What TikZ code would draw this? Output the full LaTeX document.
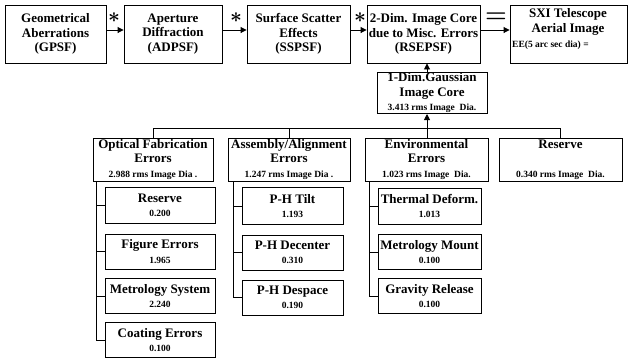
\documentclass[tikz,border=0pt]{standalone}
\usepackage{fontspec}
\setmainfont{Liberation Serif}
\usetikzlibrary{arrows.meta}
\newcommand\smtxt[1]{{\fontsize{9.5}{10}\selectfont #1}}
\tikzset{
  box/.style={draw, line width=0.9pt, inner sep=0.5pt, align=center,
    font=\bfseries\fontsize{13}{14.5}\selectfont},
  sm/.style={font=\bfseries\fontsize{9.5}{10}\selectfont, inner sep=0pt},
  ttl/.style={font=\bfseries\fontsize{13}{14.5}\selectfont, align=center, inner sep=0pt},
  sym/.style={font=\fontsize{20}{20}\selectfont\boldmath, inner sep=1pt},
  arr/.style={line width=0.9pt, -{Triangle[length=6pt,width=6pt]}},
  ln/.style={line width=0.7pt},
}
\begin{document}
\begin{tikzpicture}[x=1pt,y=-1pt]
\useasboundingbox (0,0) rectangle (629,360);
% top row
\node[box, minimum width=101pt, minimum height=58pt] (b1) at (55.5,34) {Geometrical\\Aberrations\\(GPSF)};
\node[box, minimum width=98pt, minimum height=58pt] (b2) at (173,34) {Aperture\\Diffraction\\(ADPSF)};
\node[box, minimum width=103pt, minimum height=58pt] (b3) at (298.5,34) {Surface Scatter\\Effects\\(SSPSF)};
\node[box, minimum width=113pt, minimum height=58pt] (b4) at (423.5,34) {2-Dim. Image Core\\due to Misc. Errors\\(RSEPSF)};
\node[box, minimum width=117pt, minimum height=58pt] (b5) at (568.5,34) {};
\node[ttl] (b5t) at (568,22) {SXI Telescope\\Aerial Image};
\node[sm, anchor=west] (ee) at (512,45) {EE(5 arc sec dia) =};
\node[sym] (s1) at (114,18) {$\ast$};
\node[sym] (s2) at (236,18) {$\ast$};
\node[sym] (s3) at (360,18) {$\ast$};
\node[sym, font=\fontsize{24}{24}\selectfont\boldmath] (eq) at (496,18) {$=$};
\coordinate (ay) at (0,30);
\draw[arr] (b1.east |- ay) -- (b2.west |- ay);
\draw[arr] (b2.east |- ay) -- (b3.west |- ay);
\draw[arr] (b3.east |- ay) -- (b4.west |- ay);
\draw[arr] (b4.east |- ay) -- (b5.west |- ay);
% gaussian core
\node[box, minimum width=110pt, minimum height=40pt] (g) at (432,93) {1-Dim.Gaussian\\Image Core\\\smtxt{3.413 rms Image\ \ Dia.}};
\coordinate (bus) at (427,128);
\draw[arr] (g.north -| bus) -- (b4.south -| bus);
% second row
\node[box, minimum width=120pt, minimum height=43pt] (opt) at (153,159.5) {Optical Fabrication\\Errors\\\smtxt{2.988 rms Image Dia .}};
\node[box, minimum width=122pt, minimum height=43pt] (asm) at (289,159.5) {Assembly/Alignment\\Errors\\\smtxt{1.247 rms Image Dia .}};
\node[box, minimum width=123pt, minimum height=43pt] (env) at (426.5,159.5) {Environmental\\Errors\\\smtxt{1.023 rms Image\ \ Dia.}};
\node[box, minimum width=123pt, minimum height=43pt] (res) at (560.5,159.5) {Reserve\\\mbox{}\\\smtxt{0.340 rms Image\ \ Dia.}};
\draw[ln] (opt.north |- bus) -- (res.north |- bus);
\draw[ln] (opt.north |- bus) -- (opt.north);
\draw[ln] (asm.north |- bus) -- (asm.north);
\draw[ln] (res.north |- bus) -- (res.north);
\draw[arr] (bus) -- (g.south -| bus);
\draw[ln] (env.north -| bus) -- (bus);
% optical column
\node[box, minimum width=110pt, minimum height=36pt] (o1) at (160,205.5) {Reserve\\\smtxt{0.200}};
\node[box, minimum width=110pt, minimum height=35pt] (o2) at (160,251.5) {Figure Errors\\\smtxt{1.965}};
\node[box, minimum width=110pt, minimum height=35pt] (o3) at (160,296) {Metrology System\\\smtxt{2.240}};
\node[box, minimum width=110pt, minimum height=35pt] (o4) at (160,340) {Coating Errors\\\smtxt{0.100}};
\coordinate (oc) at (96,181);
\draw[ln] (oc) -- (oc |- o4.west);
\foreach \n in {o1,o2,o3,o4} \draw[ln] (oc |- \n.west) -- (\n.west);
% assembly column
\node[box, minimum width=101pt, minimum height=37pt] (a1) at (292.5,206) {P-H Tilt\\\smtxt{1.193}};
\node[box, minimum width=101pt, minimum height=35pt] (a2) at (292.5,252.5) {P-H Decenter\\\smtxt{0.310}};
\node[box, minimum width=101pt, minimum height=35pt] (a3) at (292.5,297.5) {P-H Despace\\\smtxt{0.190}};
\coordinate (ac) at (233,181);
\draw[ln] (ac) -- (ac |- a3.west);
\foreach \n in {a1,a2,a3} \draw[ln] (ac |- \n.west) -- (\n.west);
% environmental column
\node[box, minimum width=103pt, minimum height=36pt] (e1) at (429.5,206) {Thermal Deform.\\\smtxt{1.013}};
\node[box, minimum width=103pt, minimum height=35pt] (e2) at (429.5,252) {Metrology Mount\\\smtxt{0.100}};
\node[box, minimum width=103pt, minimum height=35pt] (e3) at (429.5,296) {Gravity Release\\\smtxt{0.100}};
\coordinate (ec) at (369,181);
\draw[ln] (ec) -- (ec |- e3.west);
\foreach \n in {e1,e2,e3} \draw[ln] (ec |- \n.west) -- (\n.west);
\end{tikzpicture}
\end{document}
